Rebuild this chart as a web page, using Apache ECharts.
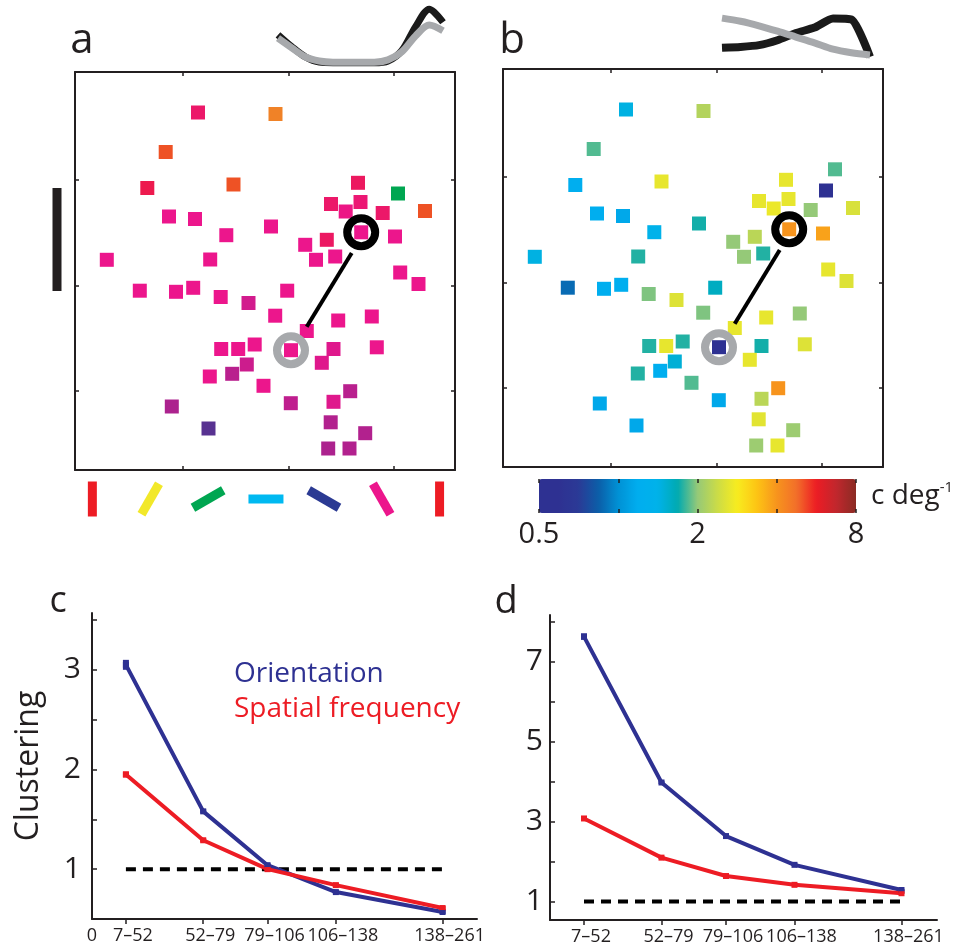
<!DOCTYPE html>
<html>
<head>
<meta charset="utf-8">
<script src="https://cdn.jsdelivr.net/npm/echarts@6/dist/echarts.min.js"></script>
<style>
html, body { margin: 0; padding: 0; background: #fff; }
#chart { width: 972px; height: 950px; }
</style>
</head>
<body>
<div id="chart"></div>
<script>
// ---- cell map (a, b): position inside the field of view, from its top-left corner
const cellX = [123, 200.5, 90.7, 72.3, 158.5, 283, 323, 350, 256, 285.5, 270.7, 307.7, 94, 120, 196, 151.3,
  286.2, 320, 230.2, 251.8, 31.8, 135.2, 241, 260.2, 325.2, 343.5, 64.8, 101, 118.2, 145.7, 173.5, 212.2,
  200.2, 231.8, 263.2, 296.8, 146.2, 163.2, 179.7, 216, 258.5, 301.8, 246.8, 171.8, 157.2, 134.8, 188.5,
  96.8, 215.8, 258.5, 275.2, 133.5, 255.7, 290.2, 253.2, 274.5, 332];
const cellY = [40.5, 42, 80, 116, 112.5, 110.8, 121.5, 139, 132, 130, 139.5, 141, 144.5, 147, 154.5, 163.2,
  160.3, 164.5, 172.8, 167.8, 187.8, 187.5, 187.8, 184.5, 200.5, 212, 218.7, 219.8, 215.8, 225, 231, 218.7,
  243.7, 259, 248.5, 244.5, 277, 277, 272.5, 278.2, 277, 275.3, 290.8, 292.5, 301.8, 304.5, 313.8,
  334.5, 331.2, 329.8, 319.2, 356.5, 350.3, 361.2, 376.5, 376.5, 100.3];
// preferred orientation (deg), null = not in panel a
const cellOri = [160, 15, 8, 168, 8, 163, 60, 8, 160, 157, 152, 160, 150, 150, 150, 150,
  150, 150, 150, 162, 150, 150, 150, 150, 150, 150, 150, 150, 150, 150, 146, 150,
  150, 150, 150, 150, 150, 150, 150, 150, 148, 150, 148, 145, 142, 150, 150,
  140, 143, 148, 142, 127, 141, 141, 140, 141, null];
// preferred spatial frequency (c/deg)
const cellSF = [1.45, 2.2, 1.85, 1.2, 2.65, 2.65, 0.57, 2.5, 2.65, 2.65, 2.7, 2.0, 1.2, 1.15, 1.72, 1.4,
  4.0, 3.8, 2.0, 2.25, 1.45, 1.75, 2.0, 1.75, 2.65, 2.55, 0.88, 1.2, 1.2, 1.95, 2.55, 1.6,
  1.95, 2.65, 2.65, 2.0, 1.75, 2.65, 1.75, 0.55, 1.72, 2.55, 2.65, 1.5, 1.2, 1.75, 1.85,
  1.15, 1.15, 2.25, 4.0, 1.15, 2.6, 2.05, 2.05, 2.65, 1.85];

const blackCell = 16;
const grayCell = 39;
const linkX = [276.7, 231.7];
const linkY = [181, 254.7];
const scaleBarY = [116, 219];
const frameTicks = [108, 213.5, 319];

const glyphOri = [0, 30, 60, 90, 120, 150, 180];

// tuning curve insets
const oriAngles = [0, 15, 30, 45, 60, 75, 90, 105, 120, 135, 150, 165, 180];
const oriTuneBlack = [0.53, 0.32, 0.14, 0.05, 0.04, 0.04, 0.04, 0.04, 0.07, 0.25, 0.67, 0.98, 0.75];
const oriTuneGray = [0.47, 0.30, 0.14, 0.07, 0.05, 0.05, 0.05, 0.05, 0.09, 0.23, 0.51, 0.70, 0.60];
const sfSteps = [0, 1, 2, 3, 4, 5, 6, 7, 8];
const sfTuneBlack = [0.27, 0.29, 0.33, 0.44, 0.6, 0.72, 0.92, 0.9, 0.07];
const sfTuneGray = [0.93, 0.86, 0.76, 0.64, 0.51, 0.38, 0.24, 0.16, 0.11];

// ---- clustering (c, d)
const distLabels = ['7\u201352', '52\u201379', '79\u2013106', '106\u2013138', '138\u2013261'];
const distPos = [34, 111.5, 176, 244.5, 351.5];
const oriClustC = [3.05, 1.58, 1.04, 0.77, 0.57];
const oriErrC = [0.05, 0.02, 0.02, 0.02, 0.02];
const sfClustC = [1.95, 1.29, 1.0, 0.84, 0.61];
const sfErrC = [0.03, 0.02, 0.02, 0.02, 0.02];
const oriClustD = [7.63, 3.98, 2.64, 1.92, 1.29];
const oriErrD = [0.08, 0.04, 0.03, 0.03, 0.03];
const sfClustD = [3.08, 2.1, 1.64, 1.42, 1.21];
const sfErrD = [0.04, 0.03, 0.02, 0.02, 0.02];

const oriColors = ['#ed1c24', '#f2e829', '#00a651', '#00b9f1', '#2b3a93', '#ec168c', '#ed1c24'];
const sfColors = ['#2e3192', '#2e3192', '#2b3a96', '#0b5ea8', '#0091d5', '#00aeef', '#00b2ea', '#00aab0',
  '#95c978', '#cbdc47', '#f8ec1f', '#fdc414', '#f7941d', '#f26f2a', '#ed1c24', '#c1272d', '#8a2b24'];

const ink = '#231f20';
const blue = '#2e3192';
const red = '#ed1c24';
const font = 'Open Sans';

const chart = echarts.init(document.getElementById('chart'));

function frameAxis(grid, pos, max, inv) {
  return {
    gridIndex: grid, type: 'value', position: pos, min: 0, max: max, inverse: inv,
    axisLine: { show: true, onZero: false, lineStyle: { color: ink, width: 2 } },
    axisTick: { show: true, inside: true, length: 4, customValues: frameTicks, lineStyle: { color: ink, width: 1.5 } },
    axisLabel: { show: false }, splitLine: { show: false }
  };
}
function hidden(grid, min, max, inv) {
  return { gridIndex: grid, type: 'value', min: min, max: max, inverse: !!inv, show: false, splitLine: { show: false } };
}

const cellsA = [], cellsB = [];
for (let i = 0; i < cellX.length; i++) {
  if (cellOri[i] !== null) cellsA.push([cellX[i], cellY[i], cellOri[i]]);
  if (cellSF[i] !== null) cellsB.push([cellX[i], cellY[i], Math.log2(cellSF[i])]);
}
const rings = [
  { value: [cellX[blackCell], cellY[blackCell]], itemStyle: { borderColor: '#000' } },
  { value: [cellX[grayCell], cellY[grayCell]], itemStyle: { borderColor: '#a7a9ac' } }
];

function cellSeries(ax) {
  return [
    { type: 'scatter', xAxisIndex: ax, yAxisIndex: ax, data: ax === 0 ? cellsA : cellsB,
      symbol: 'rect', symbolSize: 14, itemStyle: { opacity: 1 }, z: 2 },
    { type: 'line', xAxisIndex: ax, yAxisIndex: ax, data: [[linkX[0], linkY[0]], [linkX[1], linkY[1]]],
      symbol: 'none', lineStyle: { color: '#000', width: 4 }, z: 3 },
    { type: 'scatter', xAxisIndex: ax, yAxisIndex: ax, data: rings, symbol: 'circle', symbolSize: 28,
      itemStyle: { color: 'rgba(0,0,0,0)', borderWidth: 8, opacity: 1 }, z: 4 }
  ];
}

function clusterSeries(ax, ay, ori, oriErr, sf, sfErr) {
  const line = (name, vals, color) => ({
    name: name, type: 'line', xAxisIndex: ax, yAxisIndex: ay,
    data: distPos.map((x, i) => [x, vals[i]]),
    symbol: 'rect', symbolSize: 6, itemStyle: { color: color }, lineStyle: { color: color, width: 4 }, z: 3
  });
  const err = (vals, errs, color) => ({
    type: 'custom', xAxisIndex: ax, yAxisIndex: ay,
    data: distPos.map((x, i) => [x, vals[i] - errs[i], vals[i] + errs[i]]),
    renderItem: (params, api) => {
      const lo = api.coord([api.value(0), api.value(1)]);
      const hi = api.coord([api.value(0), api.value(2)]);
      return { type: 'rect', shape: { x: lo[0] - 3, y: hi[1], width: 6, height: lo[1] - hi[1] }, style: { fill: color } };
    }, z: 4
  });
  return [
    { type: 'line', xAxisIndex: ax, yAxisIndex: ay, data: [[distPos[0], 1], [distPos[4], 1]], symbol: 'none',
      lineStyle: { color: '#000', width: 4, type: [10, 7] }, z: 2 },
    line('Orientation', ori, blue),
    line('Spatial frequency', sf, red),
    err(ori, oriErr, blue),
    err(sf, sfErr, red)
  ];
}

function distAxis(grid, max, withZero) {
  return {
    gridIndex: grid, type: 'value', min: 0, max: max, position: 'bottom',
    axisLine: { onZero: false, lineStyle: { color: ink, width: 2 } },
    axisTick: { length: 5, customValues: distPos, lineStyle: { color: ink, width: 1.5 } },
    axisLabel: {
      customValues: withZero ? [0].concat(distPos) : distPos, margin: 8, color: ink, fontSize: 18, fontFamily: font,
      hideOverlap: false,
      formatter: v => v === 0 ? '0' : '{s|' + distLabels[distPos.indexOf(v)] + '}',
      rich: { s: { fontSize: 18, fontFamily: font, color: ink, padding: [0, 0, 0, 14] } }
    },
    splitLine: { show: false }
  };
}

const option = {
  animation: false,
  backgroundColor: '#fff',
  textStyle: { fontFamily: font },
  grid: [
    { left: 75, top: 72, width: 380, height: 398 },
    { left: 503, top: 69, width: 380, height: 398 },
    { left: 75, top: 480, width: 380, height: 38 },
    { left: 539, top: 479, width: 317, height: 34 },
    { left: 92, top: 613, width: 385, height: 306 },
    { left: 550, top: 615, width: 387, height: 305 },
    { left: 278, top: 8, width: 165, height: 57 },
    { left: 722, top: 15, width: 148, height: 45 },
    { left: 47, top: 72, width: 20, height: 398 }
  ],
  xAxis: [
    frameAxis(0, 'bottom', 380, false),
    frameAxis(0, 'top', 380, false),
    frameAxis(1, 'bottom', 380, false),
    frameAxis(1, 'top', 380, false),
    hidden(2, -9, 188),
    { gridIndex: 3, type: 'value', min: -1, max: 3, position: 'bottom', z: 10,
      axisLine: { show: false },
      axisTick: { inside: true, length: 4, customValues: [-1, 0, 1, 2, 3], lineStyle: { color: ink, width: 1.5 } },
      axisLabel: { customValues: [-1, 1, 3], formatter: v => String(Math.pow(2, v)), fontSize: 29, color: ink, margin: 7, fontFamily: font },
      splitLine: { show: false } },
    { gridIndex: 3, type: 'value', min: -1, max: 3, position: 'top', z: 10,
      axisLine: { show: false },
      axisTick: { inside: true, length: 4, customValues: [-1, 0, 1, 2, 3], lineStyle: { color: ink, width: 1.5 } },
      axisLabel: { show: false }, splitLine: { show: false } },
    distAxis(4, 386, true),
    distAxis(5, 387, false),
    hidden(6, 0, 180),
    hidden(7, 0, 8),
    hidden(8, 0, 1)
  ],
  yAxis: [
    frameAxis(0, 'left', 398, true),
    frameAxis(0, 'right', 398, true),
    frameAxis(1, 'left', 398, true),
    frameAxis(1, 'right', 398, true),
    hidden(2, 0, 1),
    hidden(3, 0, 1),
    { gridIndex: 4, type: 'value', min: 0.5, max: 3.57,
      name: 'Clustering', nameLocation: 'middle', nameGap: 47,
      nameTextStyle: { fontSize: 32, color: ink, fontFamily: font },
      axisLine: { onZero: false, lineStyle: { color: ink, width: 2 } },
      axisTick: { inside: true, length: 5, customValues: [1, 1.5, 2, 2.5, 3, 3.5], lineStyle: { color: ink, width: 1.5 } },
      axisLabel: { customValues: [1, 2, 3], fontSize: 30, color: ink, margin: 11, fontFamily: font },
      splitLine: { show: false } },
    { gridIndex: 5, type: 'value', min: 0.54, max: 8.17,
      axisLine: { onZero: false, lineStyle: { color: ink, width: 2 } },
      axisTick: { inside: true, length: 5, customValues: [1, 2, 3, 4, 5, 6, 7, 8], lineStyle: { color: ink, width: 1.5 } },
      axisLabel: { customValues: [1, 3, 5, 7], fontSize: 30, color: ink, margin: 7, fontFamily: font, padding: [0, 0, 14, 0] },
      splitLine: { show: false } },
    hidden(6, 0, 1),
    hidden(7, 0, 1),
    hidden(8, 0, 398, true)
  ],
  visualMap: [
    { type: 'continuous', show: false, seriesIndex: [0, 7], dimension: 2, min: 0, max: 180,
      inRange: { color: oriColors } },
    { type: 'continuous', show: true, seriesIndex: [4], dimension: 2, min: -1, max: 3,
      orient: 'horizontal', left: 539, top: 479, itemWidth: 34, itemHeight: 317, padding: 0,
      calculable: false, hoverLink: false, text: null, showLabel: false,
      inRange: { color: sfColors } }
  ],
  legend: {
    left: 224, top: 654, orient: 'vertical', icon: 'none', itemWidth: 0, itemHeight: 30, itemGap: 5,
    selectedMode: false,
    textStyle: { fontSize: 28, fontFamily: font, lineHeight: 30 },
    data: [
      { name: 'Orientation', textStyle: { color: blue } },
      { name: 'Spatial frequency', textStyle: { color: red } }
    ]
  },
  graphic: [
    { type: 'text', x: 82, y: 41, style: { text: 'a', fontSize: 42, fontFamily: font, fill: ink, align: 'center', verticalAlign: 'middle' } },
    { type: 'text', x: 512, y: 41, style: { text: 'b', fontSize: 42, fontFamily: font, fill: ink, align: 'center', verticalAlign: 'middle' } },
    { type: 'text', x: 58, y: 602, style: { text: 'c', fontSize: 36, fontFamily: font, fill: ink, align: 'center', verticalAlign: 'middle' } },
    { type: 'text', x: 506, y: 602, style: { text: 'd', fontSize: 38, fontFamily: font, fill: ink, align: 'center', verticalAlign: 'middle' } },
    { type: 'text', x: 871, y: 496, style: { text: 'c deg{sup|-1}', fontSize: 28, fontFamily: font, fill: ink, align: 'left', verticalAlign: 'middle',
      rich: { sup: { fontSize: 15, fontFamily: font, fill: ink, padding: [0, 0, 16, 0] } } } }
  ],
  series: [
    ...cellSeries(0),                           // 0,1,2
    { type: 'line', xAxisIndex: 11, yAxisIndex: 10, symbol: 'none',   // 3 scale bar
      data: [[0.5, scaleBarY[0]], [0.5, scaleBarY[1]]], lineStyle: { color: ink, width: 9 } },
    ...cellSeries(2).map(s => Object.assign(s, { xAxisIndex: 2, yAxisIndex: 2 })), // 4,5,6
    { type: 'scatter', xAxisIndex: 4, yAxisIndex: 4, symbol: 'rect', symbolSize: [9, 35],   // 7
      symbolRotate: v => -v[0], itemStyle: { opacity: 1 }, data: glyphOri.map(o => [o, 0.5, o]) },
    ...clusterSeries(7, 6, oriClustC, oriErrC, sfClustC, sfErrC),
    ...clusterSeries(8, 7, oriClustD, oriErrD, sfClustD, sfErrD),
    { type: 'line', xAxisIndex: 9, yAxisIndex: 8, smooth: 0.3, symbol: 'none',
      data: oriAngles.map((a, i) => [a, oriTuneBlack[i]]), lineStyle: { color: '#1a1a1a', width: 7 } },
    { type: 'line', xAxisIndex: 9, yAxisIndex: 8, smooth: 0.3, symbol: 'none',
      data: oriAngles.map((a, i) => [a, oriTuneGray[i]]), lineStyle: { color: '#a7a9ac', width: 7 } },
    { type: 'line', xAxisIndex: 10, yAxisIndex: 9, smooth: 0.2, symbol: 'none',
      data: sfSteps.map((a, i) => [a, sfTuneBlack[i]]), lineStyle: { color: '#1a1a1a', width: 8 } },
    { type: 'line', xAxisIndex: 10, yAxisIndex: 9, smooth: 0.3, symbol: 'none',
      data: sfSteps.map((a, i) => [a, sfTuneGray[i]]), lineStyle: { color: '#a7a9ac', width: 7 } }
  ]
};
chart.setOption(option);
</script>
</body>
</html>
